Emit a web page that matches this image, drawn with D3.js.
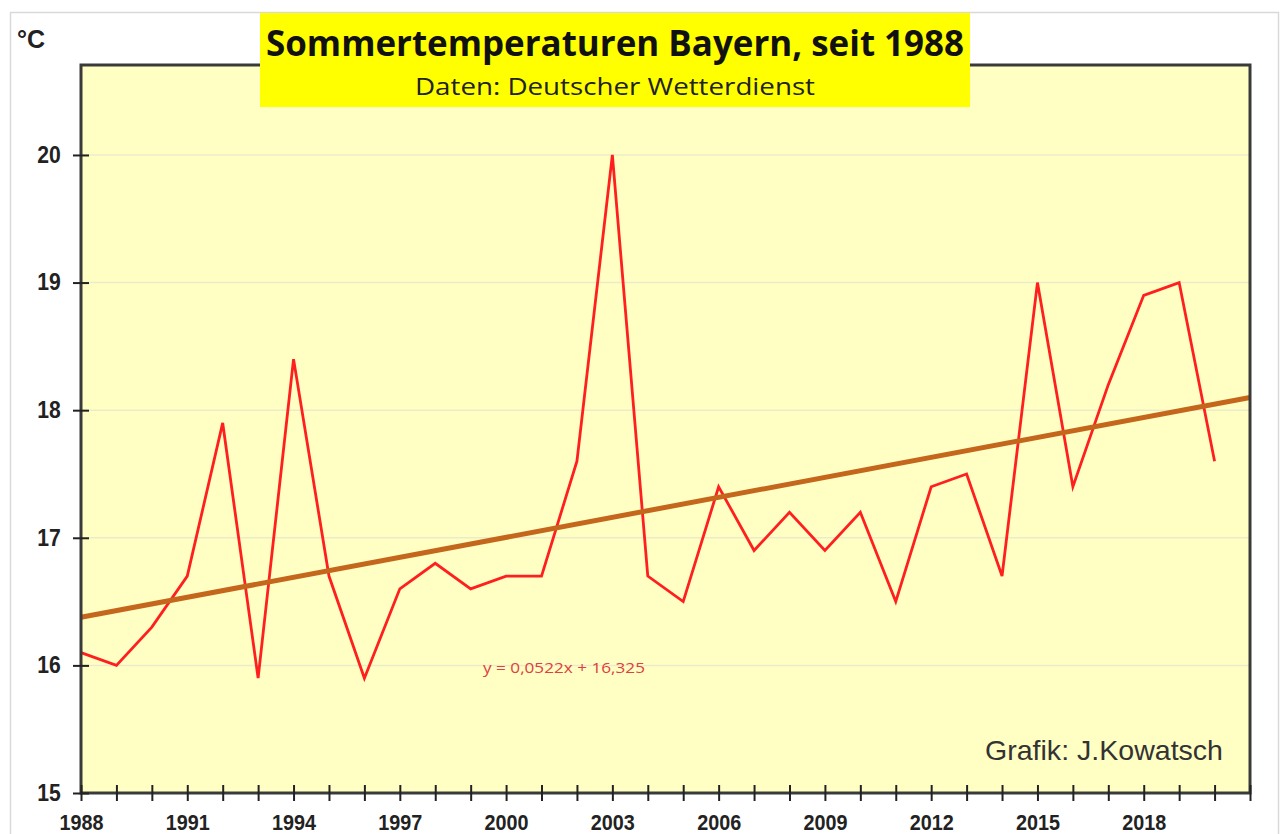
<!DOCTYPE html>
<html>
<head>
<meta charset="utf-8">
<script src="https://cdn.jsdelivr.net/npm/d3@7"></script>
<style>
  body { margin: 0; background: #fff; }
  svg { display: block; }
</style>
</head>
<body>
<svg id="chart" width="1284" height="834"></svg>
<script>
// Sommertemperaturen Bayern (DWD), °C
const years = [1988, 1989, 1990, 1991, 1992, 1993, 1994, 1995, 1996, 1997, 1998, 1999, 2000, 2001, 2002, 2003, 2004,
  2005, 2006, 2007, 2008, 2009, 2010, 2011, 2012, 2013, 2014, 2015, 2016, 2017, 2018, 2019, 2020];
const temps = [16.1, 16.0, 16.3, 16.7, 17.9, 15.9, 18.4, 16.7, 15.9, 16.6, 16.8, 16.6, 16.7, 16.7, 17.6, 20.0, 16.7,
  16.5, 17.4, 16.9, 17.2, 16.9, 17.2, 16.5, 17.4, 17.5, 16.7, 19.0, 17.4, 18.2, 18.9, 19.0, 17.6];
const yTicks = [15, 16, 17, 18, 19, 20];
const xLabels = [1988, 1991, 1994, 1997, 2000, 2003, 2006, 2009, 2012, 2015, 2018];
const trendSlope = 0.0522;
const trendIntercept = 16.325;

const svg = d3.select("#chart");
const plot = { left: 81, right: 1250, top: 65, bottom: 793 };

const x = d3.scaleLinear().domain([1988, 2021]).range([plot.left, plot.right]);
const y = d3.scaleLinear().domain([15, 20.705]).range([plot.bottom, plot.top]);

// outer frame
svg.append("rect")
  .attr("x", 10.5).attr("y", 12.5).attr("width", 1268).attr("height", 830)
  .attr("fill", "#fff").attr("stroke", "#d9d9d9").attr("stroke-width", 1.5);

// plot background
svg.append("rect")
  .attr("x", plot.left).attr("y", plot.top)
  .attr("width", plot.right - plot.left).attr("height", plot.bottom - plot.top)
  .attr("fill", "#ffffc4");

// gridlines
svg.append("g")
  .selectAll("line")
  .data(yTicks.slice(1))
  .join("line")
  .attr("x1", plot.left).attr("x2", plot.right)
  .attr("y1", d => y(d)).attr("y2", d => y(d))
  .attr("stroke", "#ecebc9").attr("stroke-width", 1.5);

// data line
const line = d3.line()
  .x((d, i) => x(years[i]))
  .y(d => y(d));

svg.append("path")
  .datum(temps)
  .attr("d", line)
  .attr("fill", "none")
  .attr("stroke", "#ff1f1f")
  .attr("stroke-width", 2.8)
  .attr("stroke-linejoin", "miter");

// linear trend (x = 1 at 1988), extended to the right edge
const trendYears = [1988, 2021];
svg.append("path")
  .datum(trendYears)
  .attr("d", d3.line()
    .x(d => x(d))
    .y(d => y(trendIntercept + trendSlope * (d - 1987))))
  .attr("stroke", "#c4661c")
  .attr("stroke-width", 5)
  .attr("fill", "none");

// plot border
svg.append("rect")
  .attr("x", plot.left).attr("y", plot.top)
  .attr("width", plot.right - plot.left).attr("height", plot.bottom - plot.top)
  .attr("fill", "none").attr("stroke", "#3a3a3a").attr("stroke-width", 3);

// y axis
const yAxis = svg.append("g")
  .attr("transform", `translate(${plot.left},0)`)
  .call(d3.axisLeft(y).tickValues(yTicks).tickSize(0).tickPadding(20).tickFormat(d3.format("d")));
yAxis.select(".domain").remove();
yAxis.selectAll("text")
  .attr("font-family", "Liberation Sans, Arial, sans-serif")
  .attr("font-size", 23).attr("font-weight", "bold").attr("fill", "#222")
  .attr("transform", "scale(0.92,1)").attr("dx", -2);
yAxis.selectAll(".tick").append("line")
  .attr("x1", -8).attr("x2", 8).attr("stroke", "#222").attr("stroke-width", 2);

// x axis
const xAxis = svg.append("g")
  .attr("transform", `translate(0,${plot.bottom})`)
  .call(d3.axisBottom(x).tickValues(d3.range(1988, 2022)).tickSize(0).tickPadding(21)
    .tickFormat(d => xLabels.includes(d) ? d : ""));
xAxis.select(".domain").remove();
xAxis.selectAll("text")
  .attr("font-family", "Liberation Sans, Arial, sans-serif")
  .attr("font-size", 22).attr("font-weight", "bold").attr("fill", "#222")
  .attr("textLength", 44).attr("lengthAdjust", "spacingAndGlyphs");
xAxis.selectAll(".tick").append("line")
  .attr("y1", -8).attr("y2", 8).attr("stroke", "#222").attr("stroke-width", 2);

// unit label
svg.append("text")
  .attr("x", 17).attr("y", 48)
  .attr("font-family", "Liberation Sans, Arial, sans-serif")
  .attr("font-size", 25).attr("font-weight", "bold").attr("fill", "#222")
  .text("°C");

// title box
svg.append("rect")
  .attr("x", 260).attr("y", 13).attr("width", 710).attr("height", 94)
  .attr("fill", "#ffff00");
svg.append("text")
  .attr("x", 615).attr("y", 56)
  .attr("text-anchor", "middle")
  .attr("font-family", "Open Sans, Noto Sans, sans-serif")
  .attr("font-size", 35).attr("font-weight", "bold").attr("fill", "#111")
  .attr("textLength", 698).attr("lengthAdjust", "spacingAndGlyphs")
  .text("Sommertemperaturen Bayern, seit 1988");
svg.append("text")
  .attr("x", 615).attr("y", 95)
  .attr("text-anchor", "middle")
  .attr("font-family", "Open Sans, Noto Sans, sans-serif")
  .attr("font-size", 24).attr("fill", "#222")
  .attr("textLength", 400).attr("lengthAdjust", "spacingAndGlyphs")
  .text("Daten: Deutscher Wetterdienst");

// trend equation
svg.append("text")
  .attr("x", 483).attr("y", 673)
  .attr("font-family", "Open Sans, Noto Sans, sans-serif")
  .attr("font-size", 14).attr("fill", "#e04040")
  .attr("textLength", 162).attr("lengthAdjust", "spacingAndGlyphs")
  .text("y = 0,0522x + 16,325");

// credit
svg.append("text")
  .attr("x", 1223).attr("y", 760)
  .attr("text-anchor", "end")
  .attr("font-family", "Liberation Sans, Arial, sans-serif")
  .attr("font-size", 28).attr("fill", "#333")
  .attr("textLength", 238).attr("lengthAdjust", "spacingAndGlyphs")
  .text("Grafik: J.Kowatsch");
</script>
</body>
</html>
